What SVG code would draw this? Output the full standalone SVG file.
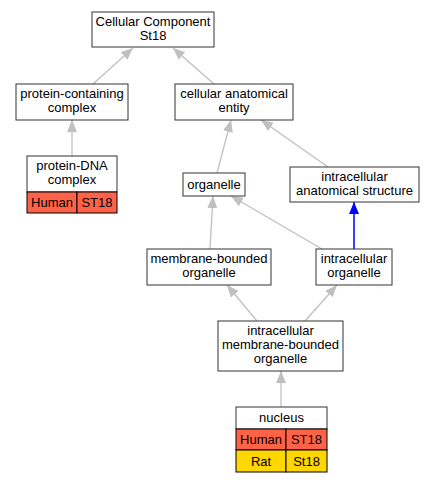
<svg xmlns="http://www.w3.org/2000/svg" width="435" height="483" viewBox="0 0 435 483">
<style>
text{font-family:"Liberation Sans",Arial,sans-serif;font-size:13px;fill:#000;text-anchor:middle}
.n{fill:#fff;stroke:#333;stroke-width:1}
.t{stroke:#000;stroke-width:1}
.e{fill:none;stroke:#c0c0c0;stroke-width:1.3}
.b{fill:none;stroke:#0000ff;stroke-width:1.5}
</style>
<defs>
<marker id="ag" markerUnits="userSpaceOnUse" markerWidth="12" markerHeight="12" viewBox="0 0 12 10" refX="12" refY="5" orient="auto"><path d="M0,0L12,5L0,10z" fill="#c0c0c0"/></marker>
<marker id="ab" markerUnits="userSpaceOnUse" markerWidth="12" markerHeight="12" viewBox="0 0 12 10" refX="12" refY="5" orient="auto"><path d="M0,0L12,5L0,10z" fill="#0000ff"/></marker>
</defs>
<g id="edges">
<path class="e" d="M93,84L133,48" marker-end="url(#ag)"/>
<path class="e" d="M214,84L173,48" marker-end="url(#ag)"/>
<path class="e" d="M72,156L72,120" marker-end="url(#ag)"/>
<path class="e" d="M217,173L231,120" marker-end="url(#ag)"/>
<path class="e" d="M328,167L261,120" marker-end="url(#ag)"/>
<path class="e" d="M210,249L213,196" marker-end="url(#ag)"/>
<path class="e" d="M322,249L231,196" marker-end="url(#ag)"/>
<path class="b" d="M354,249L354,202" marker-end="url(#ab)"/>
<path class="e" d="M257,321L227,285" marker-end="url(#ag)"/>
<path class="e" d="M305,321L337,285" marker-end="url(#ag)"/>
<path class="e" d="M281,407L281,371" marker-end="url(#ag)"/>
</g>
<g id="cellular_component">
<rect class="n" x="92" y="12" width="122" height="35"/>
<text x="153" y="26">Cellular Component</text>
<text x="153" y="40">St18</text>
</g>
<g id="protein_containing_complex">
<rect class="n" x="16" y="84" width="112" height="36"/>
<text x="72" y="98">protein-containing</text>
<text x="72" y="112">complex</text>
</g>
<g id="cellular_anatomical_entity">
<rect class="n" x="175" y="84" width="118" height="36"/>
<text x="234" y="98">cellular anatomical</text>
<text x="234" y="112">entity</text>
</g>
<g id="protein_dna_complex">
<rect class="n" x="27" y="156" width="90" height="36"/>
<text x="72" y="170">protein-DNA</text>
<text x="72" y="184">complex</text>
<rect class="t" x="27" y="192" width="50" height="21" fill="#ff6347"/>
<rect class="t" x="77" y="192" width="40" height="21" fill="#ff6347"/>
<text x="52" y="207">Human</text>
<text x="97" y="207">ST18</text>
</g>
<g id="organelle">
<rect class="n" x="183" y="173" width="62" height="23"/>
<text x="214" y="189">organelle</text>
</g>
<g id="intracellular_anatomical_structure">
<rect class="n" x="290" y="167" width="129" height="35"/>
<text x="354.5" y="181">intracellular</text>
<text x="354.5" y="195">anatomical structure</text>
</g>
<g id="membrane_bounded_organelle">
<rect class="n" x="147" y="249" width="124" height="36"/>
<text x="209" y="263">membrane-bounded</text>
<text x="209" y="277">organelle</text>
</g>
<g id="intracellular_organelle">
<rect class="n" x="316" y="249" width="76" height="36"/>
<text x="354" y="263">intracellular</text>
<text x="354" y="277">organelle</text>
</g>
<g id="intracellular_membrane_bounded_organelle">
<rect class="n" x="218" y="321" width="125" height="50"/>
<text x="280.5" y="335">intracellular</text>
<text x="280.5" y="349">membrane-bounded</text>
<text x="280.5" y="363">organelle</text>
</g>
<g id="nucleus">
<rect class="n" x="236" y="407" width="91" height="22"/>
<text x="281.5" y="422">nucleus</text>
<rect class="t" x="236" y="429" width="50" height="21" fill="#ff6347"/>
<rect class="t" x="286" y="429" width="41" height="21" fill="#ff6347"/>
<rect class="t" x="236" y="450" width="50" height="22" fill="#ffd700"/>
<rect class="t" x="286" y="450" width="41" height="22" fill="#ffd700"/>
<text x="261" y="444">Human</text>
<text x="306.5" y="444">ST18</text>
<text x="261" y="466">Rat</text>
<text x="306.5" y="466">St18</text>
</g>
</svg>
